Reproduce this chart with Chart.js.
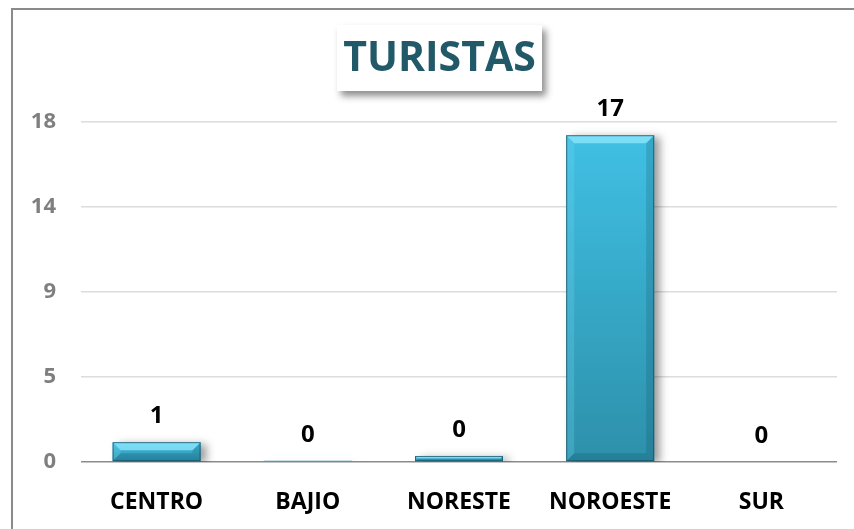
<!DOCTYPE html>
<html lang="es">
<head>
<meta charset="utf-8">
<title>TURISTAS</title>
<style>
    body { margin: 0; background: #fff; }
    #wrap { width: 854px; height: 529px; position: relative; }
</style>
</head>
<body>
<div id="wrap">
    <canvas id="myChart"></canvas>
</div>

<script src="https://cdn.jsdelivr.net/npm/chart.js"></script>
<script>
    // datos
    var regiones = ['CENTRO', 'BAJIO', 'NORESTE', 'NOROESTE', 'SUR'];
    var turistas = [1.05, 0.06, 0.32, 17.3, 0];
    var ticksY = [0, 4.5, 9, 13.5, 18];
    var titulo = 'TURISTAS';

    var fuente = '"Open Sans", "DejaVu Sans", sans-serif';

    // marco gris del area del grafico
    var marco = {
        id: 'marco',
        beforeDraw: function (chart) {
            var ctx = chart.ctx;
            ctx.save();
            ctx.strokeStyle = '#8a8a8a';
            ctx.lineWidth = 2;
            ctx.beginPath();
            ctx.moveTo(chart.width, 9);
            ctx.lineTo(12, 9);
            ctx.lineTo(12, chart.height);
            ctx.stroke();
            ctx.restore();
        }
    };

    // sombra de las barras
    var sombra = {
        id: 'sombra',
        beforeDatasetDraw: function (chart) {
            var ctx = chart.ctx;
            ctx.save();
            ctx.shadowColor = 'rgba(0,0,0,0.38)';
            ctx.shadowBlur = 8;
            ctx.shadowOffsetX = 6;
            ctx.shadowOffsetY = 2;
        },
        afterDatasetDraw: function (chart) {
            chart.ctx.restore();
        }
    };

    // bisel, etiquetas de valor y titulo
    var adornos = {
        id: 'adornos',
        afterDatasetsDraw: function (chart) {
            var ctx = chart.ctx;
            var meta = chart.getDatasetMeta(0);
            ctx.save();
            meta.data.forEach(function (bar, i) {
                var p = bar.getProps(['x', 'y', 'width', 'base'], true);
                var l = p.x - p.width / 2, r = p.x + p.width / 2;
                var t = p.y, b = p.base;
                var h = b - t;
                if (h > 2) {
                    var bv = Math.min(8, h / 2);
                    // arriba
                    ctx.fillStyle = 'rgba(150,235,255,0.7)';
                    ctx.beginPath();
                    ctx.moveTo(l, t); ctx.lineTo(r, t);
                    ctx.lineTo(r - bv, t + bv); ctx.lineTo(l + bv, t + bv);
                    ctx.closePath(); ctx.fill();
                    // izquierda
                    ctx.fillStyle = 'rgba(120,220,245,0.25)';
                    ctx.beginPath();
                    ctx.moveTo(l, t); ctx.lineTo(l + bv, t + bv);
                    ctx.lineTo(l + bv, b - bv); ctx.lineTo(l, b);
                    ctx.closePath(); ctx.fill();
                    // derecha
                    ctx.fillStyle = 'rgba(10,60,80,0.18)';
                    ctx.beginPath();
                    ctx.moveTo(r, t); ctx.lineTo(r - bv, t + bv);
                    ctx.lineTo(r - bv, b - bv); ctx.lineTo(r, b);
                    ctx.closePath(); ctx.fill();
                    // abajo
                    ctx.fillStyle = 'rgba(10,60,80,0.2)';
                    ctx.beginPath();
                    ctx.moveTo(l, b); ctx.lineTo(l + bv, b - bv);
                    ctx.lineTo(r - bv, b - bv); ctx.lineTo(r, b);
                    ctx.closePath(); ctx.fill();
                    ctx.strokeStyle = 'rgba(20,70,90,0.7)';
                    ctx.lineWidth = 1;
                    ctx.strokeRect(l + 0.5, t + 0.5, p.width - 1, h - 1);
                }
                // valor
                ctx.fillStyle = '#000';
                ctx.font = 'bold 24px ' + fuente;
                ctx.textAlign = 'center';
                ctx.textBaseline = 'middle';
                ctx.fillText(String(Math.round(turistas[i])), p.x, t - 26);
            });

            // caja del titulo
            var bx = 337, by = 25, bw = 205, bh = 66;
            ctx.save();
            ctx.shadowColor = 'rgba(0,0,0,0.45)';
            ctx.shadowBlur = 7;
            ctx.shadowOffsetX = 4;
            ctx.shadowOffsetY = 5;
            ctx.fillStyle = '#fff';
            ctx.fillRect(bx, by, bw, bh);
            ctx.restore();
            ctx.fillStyle = '#215968';
            ctx.font = 'bold 41px ' + fuente;
            ctx.textAlign = 'center';
            ctx.textBaseline = 'middle';
            ctx.fillText(titulo, bx + bw / 2, by + bh / 2 + 1);
            ctx.restore();
        }
    };

    function colorBarra(c) {
        var chart = c.chart;
        var y = chart.scales && chart.scales.y;
        if (!y || !chart.chartArea || c.raw === undefined) return '#36a9cb';
        var top = y.getPixelForValue(c.raw);
        var bottom = y.getPixelForValue(0);
        if (bottom - top < 2) return '#2f98b4';
        var g = chart.ctx.createLinearGradient(0, top, 0, bottom);
        g.addColorStop(0, '#40c0e4');
        g.addColorStop(1, '#2d90aa');
        return g;
    }

    var data = {
        labels: regiones,
        datasets: [{
            label: titulo,
            data: turistas,
            backgroundColor: colorBarra,
            borderWidth: 0,
            barPercentage: 0.582,
            categoryPercentage: 1
        }]
    };

    var config = {
        type: 'bar',
        data: data,
        options: {
            responsive: true,
            maintainAspectRatio: false,
            animation: false,
            layout: {
                padding: { top: 122, right: 17, left: 0, bottom: 0 }
            },
            plugins: {
                legend: { display: false },
                tooltip: { enabled: false },
                title: { display: false }
            },
            scales: {
                x: {
                    grid: { display: false, drawTicks: false },
                    border: { display: false },
                    ticks: {
                        color: '#000',
                        font: { family: fuente, size: 23, weight: 'bold' },
                        padding: 27,
                        maxRotation: 0
                    },
                    afterFit: function (scale) { scale.height = 67; }
                },
                y: {
                    min: 0,
                    max: 18,
                    afterBuildTicks: function (scale) {
                        scale.ticks = ticksY.map(function (v) { return { value: v }; });
                    },
                    grid: {
                        drawTicks: false,
                        lineWidth: 1.5,
                        color: function (c) {
                            return c.tick && c.tick.value === 0 ? '#8c8c8c' : '#dcdcdc';
                        }
                    },
                    border: { display: false },
                    ticks: {
                        color: '#7f7f7f',
                        font: { family: fuente, size: 22, weight: 'bold' },
                        padding: 25,
                        callback: function (v) { return Math.round(v); }
                    },
                    afterFit: function (scale) { scale.width = 81; }
                }
            }
        },
        plugins: [marco, sombra, adornos]
    };

    var myChart = new Chart(document.getElementById('myChart'), config);
</script>
</body>
</html>
